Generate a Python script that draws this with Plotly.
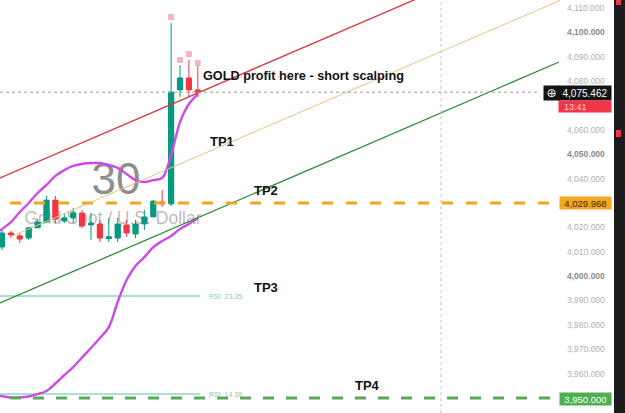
import plotly.graph_objects as go

# ---------------- data ----------------
candle_x = list(range(23))
opens = [4011.95, 4017.7, 4016.5, 4015.6, 4019.8, 4022.2, 4031.2, 4022.6, 4023.9, 4025.9, 4021.0, 4021.4,
         4015.6, 4015.6, 4021.0, 4017.3, 4021.4, 4024.3, 4030.4, 4029.6, 4076.4, 4081.3, 4076.4]
highs = [4019.3, 4018.5, 4017.7, 4020.2, 4023.4, 4032.9, 4032.9, 4025.9, 4028.0, 4027.1, 4025.9, 4023.0,
         4023.9, 4023.9, 4023.0, 4023.0, 4027.1, 4031.2, 4035.3, 4103.8, 4086.6, 4088.7, 4086.6]
lows = [4010.7, 4015.6, 4013.6, 4014.8, 4019.8, 4021.8, 4021.8, 4021.8, 4021.8, 4019.8, 4014.8, 4014.0,
        4014.0, 4014.0, 4016.1, 4015.6, 4018.9, 4024.3, 4028.4, 4028.8, 4073.5, 4073.5, 4073.5]
closes = [4017.7, 4016.9, 4015.2, 4019.8, 4022.2, 4031.2, 4023.4, 4023.9, 4025.9, 4020.6, 4021.8, 4015.6,
          4016.1, 4021.4, 4017.7, 4021.4, 4024.3, 4030.8, 4029.6, 4075.5, 4081.3, 4076.4, 4075.462]

upper_band = [4019.3, 4022.2, 4026.3, 4030.0, 4034.1, 4037.4, 4041.1, 4043.5, 4045.2, 4046.0, 4046.4, 4046.4,
              4045.6, 4044.4, 4041.9, 4039.4, 4038.6, 4039.4, 4040.3, 4049.7, 4063.2, 4070.6, 4074.7]
lower_band = [3950.8, 3950.2, 3950.2, 3950.6, 3951.6, 3952.9, 3955.95, 3959.4, 3962.7, 3966.6, 3970.5, 3974.6,
              3979.1, 3989.4, 3998.4, 4004.2, 4007.8, 4011.9, 4014.4, 4016.5, 4019.3, 4021.4, 4023.8]

signal_x = [19, 20, 21, 22]
signal_y = [4106.3, 4088.7, 4091.1, 4087.4]

red_line_x, red_line_y = [-0.2247, 50.0], [4040.25, 4119.1]
yellow_line_x, yellow_line_y = [0.9, 62.7], [4016.05, 4113.1]
green_line_x, green_line_y = [-0.2247, 62.58], [3988.97, 4087.85]

current_price = 4075.462
tp_orange = 4029.968
tp_green = 3950.000
countdown = "13:41"
rsi_levels = [3991.85, 3951.64]
rsi_labels = ["RSI: 23.35", "RSI: 14.38"]
cursor_x = 49.33

tick_vals = [3960, 3970, 3980, 3990, 4000, 4010, 4020, 4040, 4050, 4060, 4080, 4090, 4100, 4110]
bold_ticks = [4000, 4050, 4100]

X_RANGE = [-0.2247, 62.921]
Y_RANGE = [3943.85, 4113.28]
PLOT_W, H, W = 562, 413, 625
UP, DOWN = "#089981", "#f23645"


def px(x):
    return x / PLOT_W


def py(y):
    return 1 - y / H


fig = go.Figure()

# watermark on the base axes (drawn beneath the overlaid chart axes)
fig.add_trace(go.Scatter(x=[12.8], y=[4038.2], mode="text", text=["30"],
                         textfont=dict(size=44, color="#8e8e8e", family="Liberation Sans"),
                         hoverinfo="skip", showlegend=False, xaxis="x", yaxis="y"))
fig.add_trace(go.Scatter(x=[12.47], y=[4023.0], mode="text", text=["Gold Spot / U.S. Dollar"],
                         textfont=dict(size=17.5, color="#bdbdbd", family="Liberation Sans"),
                         hoverinfo="skip", showlegend=False, xaxis="x", yaxis="y"))

# candles: wicks via candlestick, bodies via bars
fig.add_trace(go.Candlestick(
    x=candle_x, open=opens, high=highs, low=lows, close=closes,
    increasing=dict(line=dict(color=UP, width=1), fillcolor=UP),
    decreasing=dict(line=dict(color=DOWN, width=1), fillcolor=DOWN),
    whiskerwidth=0, showlegend=False, hoverinfo="skip", xaxis="x2", yaxis="y2"))

body_base = [min(o, c) for o, c in zip(opens, closes)]
body_len = [max(abs(c - o), 0.6) for o, c in zip(opens, closes)]
body_col = [UP if c >= o else DOWN for o, c in zip(opens, closes)]
fig.add_trace(go.Bar(x=candle_x, y=body_len, base=body_base, width=0.7,
                     marker=dict(color=body_col, line=dict(width=0)),
                     showlegend=False, hoverinfo="skip", xaxis="x2", yaxis="y2"))

fig.add_trace(go.Scatter(x=signal_x, y=signal_y, mode="markers",
                         marker=dict(symbol="square", size=5, color="#f5b5be",
                                     line=dict(color="#e8909c", width=0.5)),
                         showlegend=False, hoverinfo="skip", xaxis="x2", yaxis="y2"))

for lvl in rsi_levels:
    fig.add_trace(go.Scatter(x=[X_RANGE[0], 22.25], y=[lvl, lvl], mode="lines",
                             line=dict(color="#52c2a8", width=1), showlegend=False, hoverinfo="skip",
                             xaxis="x2", yaxis="y2"))

for band in (upper_band, lower_band):
    fig.add_trace(go.Scatter(x=[X_RANGE[0]] + candle_x, y=[band[0] - (band[1] - band[0]) * 0.22] + band,
                             mode="lines", line=dict(color="#cc4ae8", width=2.4, shape="spline"),
                             showlegend=False, hoverinfo="skip", xaxis="x2", yaxis="y2"))

fig.add_trace(go.Scatter(x=yellow_line_x, y=yellow_line_y, mode="lines",
                         line=dict(color="#e6c47a", width=1), showlegend=False, hoverinfo="skip",
                         xaxis="x2", yaxis="y2"))
fig.add_trace(go.Scatter(x=red_line_x, y=red_line_y, mode="lines",
                         line=dict(color="#d9343a", width=1.3), showlegend=False, hoverinfo="skip",
                         xaxis="x2", yaxis="y2"))
fig.add_trace(go.Scatter(x=green_line_x, y=green_line_y, mode="lines",
                         line=dict(color="#2e8b36", width=1.3), showlegend=False, hoverinfo="skip",
                         xaxis="x2", yaxis="y2"))

shapes = [
    dict(type="line", xref="x2", yref="y2", x0=X_RANGE[0], x1=60.45, y0=current_price, y1=current_price,
         line=dict(color="#9a9a9a", width=1, dash="dot")),
    dict(type="line", xref="x2", yref="paper", x0=cursor_x, x1=cursor_x, y0=0, y1=1,
         line=dict(color="#c4c4c4", width=1, dash="3px,3px")),
    dict(type="line", xref="x2", yref="y2", x0=0.9, x1=62.3, y0=tp_orange, y1=tp_orange,
         line=dict(color="#f0a42a", width=3, dash="11px,13px")),
    dict(type="line", xref="x2", yref="y2", x0=0.9, x1=62.3, y0=tp_green, y1=tp_green,
         line=dict(color="#5aa85a", width=3, dash="11px,12px")),
    # right dark strip
    dict(type="rect", xref="paper", yref="paper", x0=px(614), x1=px(626), y0=0, y1=1,
         fillcolor="#1c1c1e", line=dict(width=0), layer="above"),
    dict(type="rect", xref="paper", yref="paper", x0=px(616), x1=px(621), y0=py(5), y1=py(0),
         fillcolor=DOWN, line=dict(width=0), layer="above"),
    dict(type="rect", xref="paper", yref="paper", x0=px(616), x1=px(621), y0=py(137), y1=py(130),
         fillcolor=DOWN, line=dict(width=0), layer="above"),
]

annotations = []
bold_font = dict(family="Liberation Sans", size=13, color="#111111")


def label(text, x, y, anchor="center", size=13):
    annotations.append(dict(text=f"<b>{text}</b>", xref="paper", yref="paper", x=px(x), y=py(y),
                            xanchor=anchor, yanchor="middle", showarrow=False,
                            font=dict(bold_font, size=size)))


label("GOLD profit here - short scalping", 201, 76, "left", size=12.7)
label("TP1", 222, 141)
label("TP2", 266, 190)
label("TP3", 266, 287)
label("TP4", 367, 385)

for lvl, txt in zip(rsi_levels, rsi_labels):
    annotations.append(dict(text=txt, xref="x2", yref="y2", x=23.0, y=lvl, xanchor="left", yanchor="middle",
                            showarrow=False, font=dict(family="Liberation Sans", size=7, color="#7fcdb8")))


def box(text, x0, x1, yc, h, bg, color, size=9.5, align="center", family="Liberation Sans"):
    annotations.append(dict(text=text, xref="paper", yref="paper", x=px(x0), y=py(yc),
                            xanchor="left", yanchor="middle", width=x1 - x0, height=h,
                            align=align, bgcolor=bg, borderpad=0, showarrow=False,
                            font=dict(family=family, size=size, color=color)))


box("⊕", 543, 558, 92.5, 14, "#131313", "#ffffff", size=12, family="DejaVu Sans")
box(f"{current_price:,.3f}", 558, 610, 92.5, 14, "#131313", "#ffffff", size=10)
box(f"  {countdown}", 558, 610, 106, 11, DOWN, "#ffd2d6", size=9, align="left")
box(f"{tp_orange:,.3f}", 559, 610, 203, 12, "#f5a623", "#3a2a10", size=9.5)
box(f"{tp_green:,.3f}", 559, 610, 398.5, 12, "#4caf50", "#ffffff", size=9.5)

tick_text = []
for v in tick_vals:
    s = f"{v:,.3f}"
    if v in bold_ticks:
        tick_text.append(f"<b><span style='color:#8a8a8a'>{s}</span></b>")
    else:
        tick_text.append(s)

fig.update_layout(
    width=W, height=H, margin=dict(l=0, r=W - PLOT_W, t=0, b=0),
    paper_bgcolor="#ffffff", plot_bgcolor="#ffffff", barmode="overlay",
    xaxis=dict(range=X_RANGE, visible=False, fixedrange=True),
    yaxis=dict(range=Y_RANGE, visible=False, fixedrange=True),
    xaxis2=dict(range=X_RANGE, visible=False, rangeslider=dict(visible=False), fixedrange=True,
                overlaying="x"),
    yaxis2=dict(range=Y_RANGE, side="right", overlaying="y", showgrid=False, zeroline=False, showline=False,
                ticks="", tickvals=tick_vals, ticktext=tick_text, ticklabelstandoff=4,
                tickfont=dict(family="Liberation Sans", size=8.5, color="#b0b0b0")),
    shapes=shapes, annotations=annotations, showlegend=False,
)

fig.write_html("out.html")
